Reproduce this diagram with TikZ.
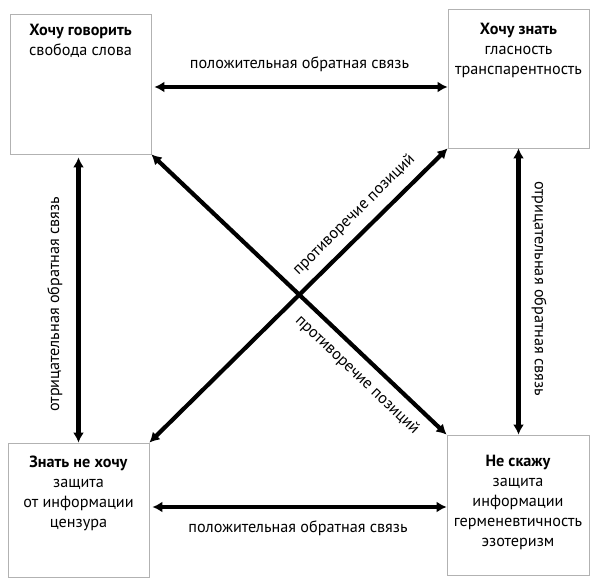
\documentclass[tikz,border=0pt]{standalone}
\usepackage{fontspec}
\setmainfont{PT Sans}
\usetikzlibrary{arrows.meta}
\usetikzlibrary{positioning}
\tikzset{>={Latex[length=10pt,width=11pt]}}
\tikzset{
  corner/.style={draw=gray!60, line width=0.8pt, minimum width=141pt, inner sep=0pt},
  boxtext/.style={align=center, font=\fontsize{16.2}{20}\selectfont, inner sep=0pt},
  link/.style={<->, line width=4.2pt},
  linklabel/.style={font=\fontsize{16.2}{18}\selectfont, inner sep=0pt}
}

\begin{document}
\begin{tikzpicture}[x=1pt, y=1pt]
            \useasboundingbox (0,0) rectangle (594,578);
            % corner boxes
            \node [corner, minimum height=140pt] (want) at (80.5,494) {};
            \node [corner, minimum height=139pt] (know) at (518.5,499.5) {};
            \node [corner, minimum height=134pt] (refuse) at (78.5,68) {};
            \node [corner, minimum height=140pt, minimum width=142pt] (silent) at (518,73) {};
            \node [boxtext, below=10pt of want.north] (wanttext) {\textbf{Хочу говорить}\\свобода слова};
            \node [boxtext, below=14pt of know.north] (knowtext) {\textbf{Хочу знать}\\гласность\\транспарентность};
            \node [boxtext, below=13pt of refuse.north] (refusetext) {\textbf{Знать не хочу}\\защита\\от информации\\цензура};
            \node [boxtext, below=20pt of silent.north] (silenttext) {\textbf{Не скажу}\\защита\\информации\\герменевтичность\\эзотеризм};
            % feedback links
            \draw [link, shorten <=3pt] ([yshift=-3pt]want.east) -- ([yshift=-3pt]want.east -| know.west)
                node [linklabel, midway, above=13pt] (toplabel) {положительная обратная связь};
            \draw [link, shorten <=3pt] ([yshift=3pt]refuse.east) -- ([yshift=3pt]refuse.east -| silent.west)
                node [linklabel, midway, below=12pt] (bottomlabel) {положительная обратная связь};
            \draw [link, shorten >=3pt] (refuse.north) -- (refuse.north |- want.south)
                node [linklabel, pos=0.48, sloped, above=14pt] (leftlabel) {отрицательная обратная связь};
            \draw [link] (know.south) -- (know.south |- silent.north)
                node [linklabel, pos=0.49, sloped, above=11pt] (rightlabel) {отрицательная обратная связь};
            % contradiction links
            \draw [link] (refuse.north east) -- (know.south west)
                node [linklabel, pos=0.73, sloped, above=9pt] (risinglabel) {противоречие позиций};
            \draw [link] (want.south east) -- (silent.north west)
                node [linklabel, pos=0.74, sloped, below=9pt] (fallinglabel) {противоречие позиций};
        \end{tikzpicture}
\end{document}
